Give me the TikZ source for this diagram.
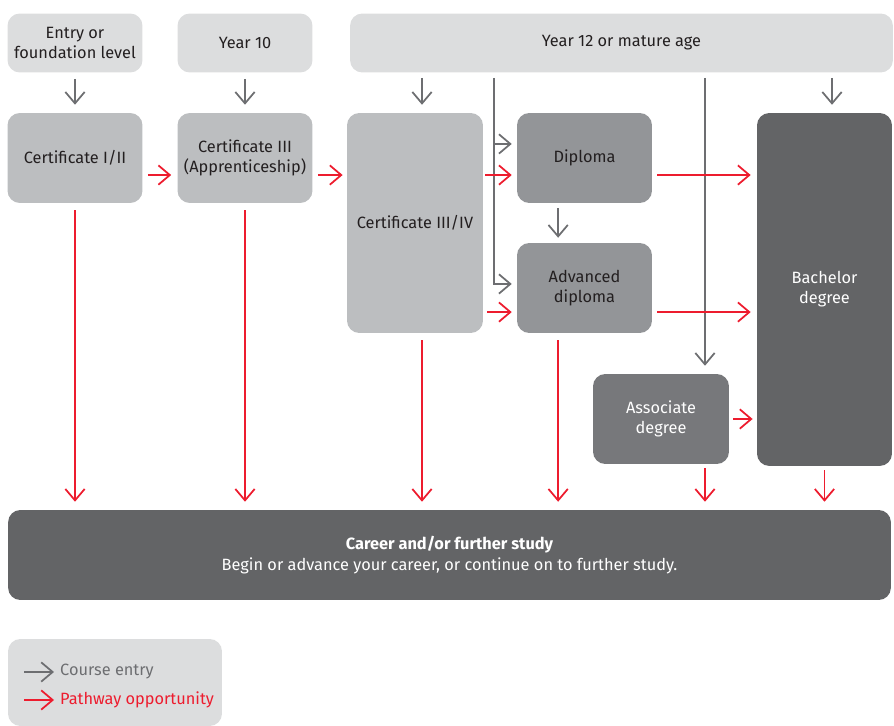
\documentclass[tikz,border=0pt]{standalone}
\usepackage{fontspec}
\setmainfont{Fira Sans}
\usepackage{xcolor}
\usepackage{tikz}
\usetikzlibrary{arrows.meta}
\definecolor{boxlight}{HTML}{DCDDDE}
\definecolor{boxcert}{HTML}{BCBEC0}
\definecolor{boxdip}{HTML}{939598}
\definecolor{boxassoc}{HTML}{77787B}
\definecolor{boxdark}{HTML}{636466}
\definecolor{entrygrey}{HTML}{6D6E71}
\definecolor{pathred}{HTML}{ED1C2E}
\definecolor{inktext}{HTML}{231F20}
\tikzset{box/.style={rounded corners=7pt, minimum width=2.7cm, minimum height=1.8cm, align=center, inner sep=2pt, text=inktext},
toplevel/.style={box, fill=boxlight, minimum height=1.18cm},
certbox/.style={box, fill=boxcert},
dipbox/.style={box, fill=boxdip},
assocbox/.style={box, fill=boxassoc, text=white},
darkbox/.style={box, fill=boxdark, text=white},
%course entry and pathway arrows
entry/.style={draw=entrygrey, line width=1pt, -{Straight Barb[length=6.5pt,width=11pt]}},
pathway/.style={draw=pathred, line width=1pt, -{Straight Barb[length=6.5pt,width=11pt]}}}

\begin{document}
\begin{tikzpicture}[x=0.02cm, y=-0.02cm, every node/.style={font=\fontsize{9.3}{11.5}\selectfont}]
\useasboundingbox (0,0) rectangle (894,726);
%\draw[step=50,color=gray] (0,0) grid (894,726);
\node[toplevel] (entrylvl) at (75,43) {Entry or\\foundation level};
\node[toplevel] (year10) at (245,43) {Year 10};
\node[toplevel, minimum width=10.86cm] (year12) at (621.5,43) {Year 12 or mature age};
\node[certbox] (cert12) at (75,158) {Certificate I/II};
\node[certbox] (cert3) at (245,158) {Certificate III\\(Apprenticeship)};
\node[certbox, minimum width=2.72cm, minimum height=4.4cm] (cert34) at (415,223) {Certificate III/IV};
\node[dipbox] (diploma) at (584.5,158) {Diploma};
\node[dipbox] (advdip) at (584.5,288) {Advanced\\diploma};
\node[darkbox, minimum height=7.06cm] (bachelor) at (824.5,289.5) {Bachelor\\degree};
\node[assocbox, minimum width=2.72cm] (assoc) at (661,419) {Associate\\degree};
\node[darkbox, minimum width=17.66cm] (career) at (449.5,555) {\bfseries Career and/or further study\\Begin or advance your career, or continue on to further study.};

\coordinate (in34) at (422,72);
\coordinate (trunk) at (494,72);
\coordinate (trunkb) at (705,72);
\coordinate (inbach) at (832,72);
\coordinate (dipin) at ([yshift=8pt]diploma.west);
\coordinate (advin) at ([yshift=2.3pt]advdip.west);

\draw[entry, shorten <=3.4pt, shorten >=4.5pt] (entrylvl.south) -- (cert12.north);
\draw[entry, shorten <=3.4pt, shorten >=4.5pt] (year10.south) -- (cert3.north);
\draw[entry, shorten <=3.4pt, shorten >=4.5pt] (in34) -- (in34 |- cert34.north);
\draw[entry, shorten <=3.4pt, shorten >=4.5pt] (inbach) -- (inbach |- bachelor.north);
\draw[entry, shorten <=3.4pt, shorten >=4.5pt] (trunkb) -- (trunkb |- assoc.north);
\draw[entry, shorten <=3.4pt, shorten >=2.8pt] (trunk) |- (advin);
\draw[entry, shorten >=2.8pt] (trunk |- dipin) -- (dipin);
\draw[entry, shorten <=2.8pt, shorten >=2.8pt] ([xshift=-15pt]diploma.south) -- ([xshift=-15pt]advdip.north);

\draw[pathway, shorten <=2.8pt, shorten >=3.4pt] ([yshift=-9.7pt]cert12.east) -- ([yshift=-9.7pt]cert3.west);
\draw[pathway, shorten <=2.8pt, shorten >=2.3pt] ([yshift=-9.7pt]cert3.east) -- ([yshift=-9.7pt]cert3.east -| cert34.west);
\draw[pathway, shorten <=1.2pt, shorten >=2.8pt] ([yshift=-9.7pt]diploma.west -| cert34.east) -- ([yshift=-9.7pt]diploma.west);
\draw[pathway, shorten <=2.3pt, shorten >=2.8pt] ([yshift=-13.7pt]advdip.west -| cert34.east) -- ([yshift=-13.7pt]advdip.west);
\draw[pathway, shorten <=2.8pt, shorten >=3.4pt] ([yshift=-9.7pt]diploma.east) -- ([yshift=-9.7pt]diploma.east -| bachelor.west);
\draw[pathway, shorten <=2.8pt, shorten >=3.4pt] ([yshift=-13.7pt]advdip.east) -- ([yshift=-13.7pt]advdip.east -| bachelor.west);
\draw[pathway, shorten <=2.3pt, shorten >=2.3pt] (assoc.east) -- (assoc.east -| bachelor.west);

\draw[pathway, shorten <=4pt, shorten >=4.5pt] (cert12.south) -- (career.north -| cert12.south);
\draw[pathway, shorten <=4pt, shorten >=4.5pt] (cert3.south) -- (career.north -| cert3.south);
\draw[pathway, shorten <=4pt, shorten >=4.5pt] (in34 |- cert34.south) -- (in34 |- career.north);
\draw[pathway, shorten <=4pt, shorten >=4.5pt] ([xshift=-15pt]advdip.south) -- ([xshift=-15pt]advdip.south |- career.north);
\draw[pathway, shorten <=2.3pt, shorten >=4.5pt] (trunkb |- assoc.south) -- (trunkb |- career.north);
\draw[pathway, shorten <=2.3pt, shorten >=4.5pt] (bachelor.south) -- (career.north -| bachelor.south);

%key
\node[box, fill=boxlight, minimum width=4.28cm, minimum height=1.74cm] (key) at (115,682.5) {};
\node[anchor=west, text=entrygrey] (keyentry) at (54,672) {Course entry};
\node[anchor=west, text=pathred] (keypath) at (54,700) {Pathway opportunity};
\coordinate (keyentryfrom) at (24,672);
\coordinate (keypathfrom) at (24,700);
\draw[entry] (keyentryfrom) -- (keyentry.west);
\draw[pathway] (keypathfrom) -- (keypath.west);
\end{tikzpicture}
\end{document}
